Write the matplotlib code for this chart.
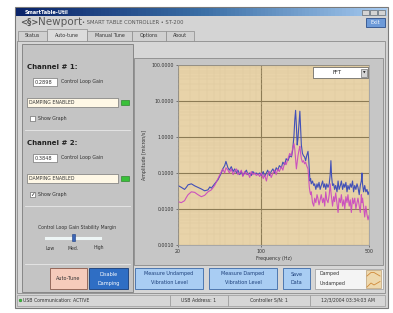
import numpy as np
import matplotlib
matplotlib.use("Agg")
import matplotlib.pyplot as plt
from matplotlib.patches import Rectangle, Circle
from matplotlib.ticker import FixedLocator, NullFormatter

# spectrum (Hz, micron/s)
freq = [20, 21.3, 22.7, 23.5, 24.3, 25.9, 27.6, 29.4, 31.4, 33.5, 35.7, 37, 38.1,
        40.6, 43.3, 46.2, 47.5, 49.3, 50.5, 52.5, 54, 56, 58, 59.8, 62, 63.7,
        66, 68, 70, 72.5, 75, 77.3, 80, 82.5, 85, 87.9, 91, 93.8, 97, 100,
        103, 105, 108, 110, 113, 116, 119, 122, 125, 128, 131, 135, 138, 142,
        145, 149, 153, 157, 160, 163, 165, 167, 169, 171, 173, 176, 178, 180,
        182, 185, 188, 191, 194, 197, 201, 203, 205, 207, 209, 211, 215, 219,
        222, 226, 230, 233, 237, 241, 245, 250, 254, 258, 262, 266, 271, 276,
        280, 283, 286, 290, 295, 299, 304, 310, 315, 320, 326, 331, 337, 343,
        348, 354, 360, 365, 372, 378, 384, 391, 397, 404, 411, 418, 424, 432,
        439, 446, 450, 454, 461, 469, 477, 485, 493, 500]
undamped = [0.045, 0.040, 0.035, 0.040, 0.047, 0.050, 0.044, 0.040, 0.036, 0.032,
            0.034, 0.041, 0.038, 0.050, 0.065, 0.10, 0.13, 0.16, 0.21, 0.14,
            0.12, 0.15, 0.11, 0.13, 0.10, 0.12, 0.09, 0.11, 0.085, 0.10,
            0.12, 0.09, 0.10, 0.085, 0.11, 0.095, 0.10, 0.09, 0.10, 0.085,
            0.11, 0.08, 0.10, 0.12, 0.085, 0.11, 0.13, 0.10, 0.14, 0.12,
            0.16, 0.14, 0.20, 0.17, 0.25, 0.22, 0.30, 0.28, 0.45, 1.1,
            3.0, 5.5, 2.0, 0.6, 0.9, 2.5, 5.2, 1.8, 0.6, 0.35,
            0.30, 0.28, 0.22, 0.30, 0.40, 0.25, 0.12, 0.06, 0.07, 0.05,
            0.06, 0.045, 0.05, 0.035, 0.05, 0.04, 0.055, 0.035, 0.045, 0.06,
            0.04, 0.05, 0.035, 0.05, 0.04, 0.05, 0.09, 0.22, 0.08, 0.045,
            0.05, 0.035, 0.045, 0.03, 0.06, 0.035, 0.045, 0.06, 0.035, 0.05,
            0.04, 0.055, 0.03, 0.045, 0.035, 0.05, 0.04, 0.06, 0.03, 0.045,
            0.035, 0.05, 0.04, 0.025, 0.045, 0.06, 0.10, 0.05, 0.03, 0.045,
            0.03, 0.035, 0.025, 0.03]
damped = [0.016, 0.015, 0.017, 0.021, 0.025, 0.030, 0.029, 0.025, 0.022, 0.024,
          0.030, 0.032, 0.034, 0.045, 0.070, 0.11, 0.13, 0.10, 0.14, 0.12,
          0.10, 0.13, 0.09, 0.11, 0.13, 0.09, 0.10, 0.12, 0.08, 0.11,
          0.09, 0.10, 0.075, 0.11, 0.09, 0.10, 0.085, 0.095, 0.08, 0.10,
          0.07, 0.09, 0.06, 0.09, 0.11, 0.075, 0.10, 0.12, 0.09, 0.13,
          0.11, 0.15, 0.12, 0.20, 0.17, 0.25, 0.35, 0.30, 0.50, 0.65,
          0.45, 0.25, 0.13, 0.20, 0.30, 0.45, 0.55, 0.35, 0.25, 0.20,
          0.22, 0.18, 0.20, 0.16, 0.13, 0.07, 0.04, 0.03, 0.025, 0.03,
          0.015, 0.012, 0.02, 0.015, 0.025, 0.02, 0.013, 0.018, 0.025, 0.015,
          0.02, 0.012, 0.03, 0.018, 0.015, 0.025, 0.05, 0.03, 0.02, 0.012,
          0.022, 0.016, 0.028, 0.014, 0.008, 0.02, 0.015, 0.025, 0.012, 0.018,
          0.01, 0.022, 0.015, 0.025, 0.012, 0.018, 0.008, 0.02, 0.014, 0.02,
          0.01, 0.015, 0.02, 0.012, 0.008, 0.025, 0.015, 0.02, 0.012, 0.006,
          0.012, 0.007, 0.005, 0.0065]

y_ticks = [0.001, 0.01, 0.1, 1, 10, 100]
x_ticks = [20, 100, 500]
tabs = ['Status', 'Auto-tune', 'Manual Tune', 'Options', 'About']


# x axis of the screenshot: 100 Hz sits at ~44% of the width
def fwd(x):
    lx = np.log10(np.clip(np.asarray(x, float), 1e-6, None))
    return np.where(lx < 2, (lx - np.log10(20)) / np.log10(5) * 0.436,
                    0.436 + (lx - 2) / np.log10(5) * 0.564)


def inv(y):
    y = np.asarray(y, float)
    return np.where(y < 0.436, 10 ** (y / 0.436 * np.log10(5) + np.log10(20)),
                    10 ** ((y - 0.436) / 0.564 * np.log10(5) + 2))


W, H = 393, 313
fig = plt.figure(figsize=(W / 100, H / 100), dpi=100)
fig.patch.set_facecolor('white')


def pixel_axes():
    a = fig.add_axes([0, 0, 1, 1])
    a.set_xlim(0, W)
    a.set_ylim(H, 0)
    a.axis('off')
    return a


bg = pixel_axes()


def box(x0, y0, x1, y1, fc, ec='#8c8c8c', lw=0.5, z=1, on=None):
    (on or bg).add_patch(Rectangle((x0, y0), x1 - x0, y1 - y0, fc=fc, ec=ec, lw=lw, zorder=z))


def txt(x, y, s, size=3.6, color='#333333', ha='left', weight='normal', z=5, on=None):
    (on or bg).text(x, y, s, fontsize=size, color=color, ha=ha, va='center',
                    fontweight=weight, zorder=z)


# window
box(15, 7, 388, 308, '#d4d4d4', '#7a7a7a', 0.8)
grad = np.linspace(0, 1, 100).reshape(1, -1)
bg.imshow(grad, extent=(16, 387, 16, 8), cmap=matplotlib.colors.LinearSegmentedColormap.from_list(
    'tb', ['#0a246a', '#3a6ea5', '#a6caf0']), aspect='auto', zorder=2)
bg.set_xlim(0, W)
bg.set_ylim(H, 0)
txt(25, 12, 'SmartTable-Util', 3.6, 'white', weight='bold', z=6)
for bx in (362, 370, 378):
    box(bx, 9.5, bx + 7, 15, '#d4d4d4', '#555555', 0.4, z=6)

# header
txt(20, 22, '<§>', 6, '#555555', weight='bold')
txt(38, 22, 'Newport', 7.5, '#5a5a5a')
txt(82, 22.5, '• SMART TABLE CONTROLLER • ST-200', 3.8, '#555555')
box(366, 18, 385, 27, '#6d9ad8', '#2c4f8a', 0.6, z=3)
txt(375.5, 22.5, 'Exit', 3.6, 'white', ha='center')

# tabs
tab_x = [18, 47, 87, 132, 166, 194]
for i, name in enumerate(tabs):
    sel = name == 'Auto-tune'
    box(tab_x[i], 29 if sel else 31, tab_x[i + 1], 41, '#dcdcdc' if sel else '#d0d0d0', '#8c8c8c', 0.5, z=2)
    txt((tab_x[i] + tab_x[i + 1]) / 2, 35.5, name, 3.4, '#333333', ha='center')
box(17, 41, 385, 293, '#d6d6d6', '#8c8c8c', 0.6, z=1)

# left panel
box(22, 44, 133, 292, '#c4c4c4', '#7c7c7c', 0.6, z=2)
for ch, gain, y0, checked in (('Channel # 1:', '0.2898', 67, False),
                              ('Channel # 2:', '0.3848', 143, True)):
    txt(27, y0, ch, 5, '#222222', weight='bold')
    box(33, y0 + 11, 57, y0 + 19, 'white', '#777777', 0.5, z=3)
    txt(35, y0 + 15, gain, 3.6)
    txt(61, y0 + 15, 'Control Loop Gain', 3.4)
    box(27, y0 + 31, 118, y0 + 40, '#fff8e6', '#777777', 0.5, z=3)
    txt(29, y0 + 35.5, 'DAMPING ENABLED', 3.3)
    box(121, y0 + 33, 129, y0 + 38, '#39c039', '#1d7a1d', 0.4, z=3)
    box(30, y0 + 49, 35, y0 + 54, 'white', '#555555', 0.4, z=3)
    if checked:
        txt(30.3, y0 + 51.5, '✓', 4, '#111111')
    txt(38, y0 + 51.5, 'Show Graph', 3.4)
    bg.plot([25, 130], [y0 + 63, y0 + 63], color='#e8e8e8', lw=0.6, zorder=3)

txt(77, 228, 'Control Loop Gain Stability Margin', 3.3, ha='center')
bg.plot([46, 100], [238, 238], color='#eef6f6', lw=2.2, zorder=3)
bg.add_patch(Rectangle((72, 234), 3, 7, fc='#3b66b8', ec='#1f3f80', lw=0.4, zorder=4))
for sx, lab in ((50, 'Low'), (73.5, 'Med.'), (99, 'High')):
    txt(sx, 248, lab, 3.3, ha='center')
bg.plot([25, 130], [264, 264], color='#e8e8e8', lw=0.6, zorder=3)

# buttons
box(50, 268, 87, 289, '#f5cbbb', '#8a5a4a', 0.6, z=3)
txt(68.5, 278.5, 'Auto-Tune', 3.5, '#333333', ha='center')
box(89, 268, 128, 289, '#2f6ec4', '#173c78', 0.6, z=3)
txt(108.5, 274, 'Disable', 3.5, 'white', ha='center')
txt(108.5, 283, 'Damping', 3.5, 'white', ha='center')
for x0, x1, l1, l2 in ((135, 203, 'Measure Undamped', 'Vibration Level'),
                       (209, 277, 'Measure Damped', 'Vibration Level'),
                       (283, 310, 'Save', 'Data')):
    box(x0, 268, x1, 289, '#a9cdf3', '#3c6aa8', 0.6, z=3)
    txt((x0 + x1) / 2, 274, l1, 3.5, '#1c3f7a', ha='center')
    txt((x0 + x1) / 2, 283, l2, 3.5, '#1c3f7a', ha='center')

# legend box
box(315, 269, 383, 289, '#f4f4f4', '#9a9a9a', 0.5, z=3)
txt(320, 274, 'Damped', 3.4)
txt(320, 284, 'Undamped', 3.4)
box(366, 270, 381, 288, '#eed8ad', '#b09060', 0.4, z=4)
bg.plot([367, 371, 374, 380], [276, 272.5, 272.5, 276], color='#d08a3a', lw=0.6, zorder=5)
bg.plot([367, 371, 374, 380], [287, 283, 285, 281.5], color='#d08a3a', lw=0.6, zorder=5)

# status bar
for x0, x1, s in ((17, 170, 'USB Communication: ACTIVE'), (170, 228, 'USB Address: 1'),
                  (228, 310, 'Controller S/N: 1'), (310, 385, '12/3/2004 03:34:03 AM')):
    box(x0, 295, x1, 306, '#d6d6d6', '#9a9a9a', 0.5, z=2)
    txt(x0 + 6 if x0 == 17 else (x0 + x1) / 2, 300.5, s, 3.3, ha='left' if x0 == 17 else 'center')
bg.add_patch(Circle((20.5, 300.5), 1.4, fc='#39c039', ec='#1d7a1d', lw=0.3, zorder=4))

# chart panel
box(134, 58, 383, 265, '#c6c6c6', '#8a8a8a', 0.6, z=2)

ax = fig.add_axes([178 / W, 1 - 245 / H, 191 / W, 180 / H])
ax.set_facecolor('#e8d3a9')
ax.set_xscale('function', functions=(fwd, inv))
ax.set_yscale('log')
ax.set_xlim(20, 500)
ax.set_ylim(0.001, 100)

ax.xaxis.set_minor_locator(FixedLocator([25, 30, 35, 40, 45, 50, 60, 70, 80, 90,
                                         125, 150, 175, 200, 250, 300, 350, 400, 450]))
ax.xaxis.set_minor_formatter(NullFormatter())
ax.grid(which='minor', color='#dcc89f', lw=0.3)
ax.grid(which='major', color='#8c7b55', lw=0.8)
ax.set_axisbelow(True)

ax.plot(freq, undamped, color='#4150b8', lw=0.8)
ax.plot(freq, damped, color='#c945c0', lw=0.8, alpha=0.9)

ax.set_yticks(y_ticks)
ax.set_yticklabels(['%.4f' % v for v in y_ticks])
ax.set_xticks(x_ticks)
ax.set_xticklabels([str(v) for v in x_ticks])
ax.tick_params(which='both', labelsize=3.4, length=1.5, width=0.4, colors='#333333', pad=1.5)
ax.tick_params(which='minor', length=0)
ax.set_ylabel('Amplitude [micron/s]', fontsize=3.4, labelpad=3, color='#333333')
ax.set_xlabel('Frequency (Hz)', fontsize=3.4, labelpad=1.5, color='#333333')
for s in ax.spines.values():
    s.set_color('#9a9a9a')
    s.set_linewidth(0.5)

# FFT selector, on a transparent layer above the chart
top = pixel_axes()
top.patch.set_visible(False)
box(313, 67, 368, 78, 'white', '#555555', 0.5, on=top)
box(361, 68.5, 367, 76.5, '#d4d4d4', '#555555', 0.4, z=2, on=top)
txt(337, 72.5, 'FFT', 3.8, '#222222', ha='center', on=top)
txt(364, 72.5, '▼', 2.4, '#222222', ha='center', on=top)

fig.savefig('out.png', dpi=100, facecolor='white')
